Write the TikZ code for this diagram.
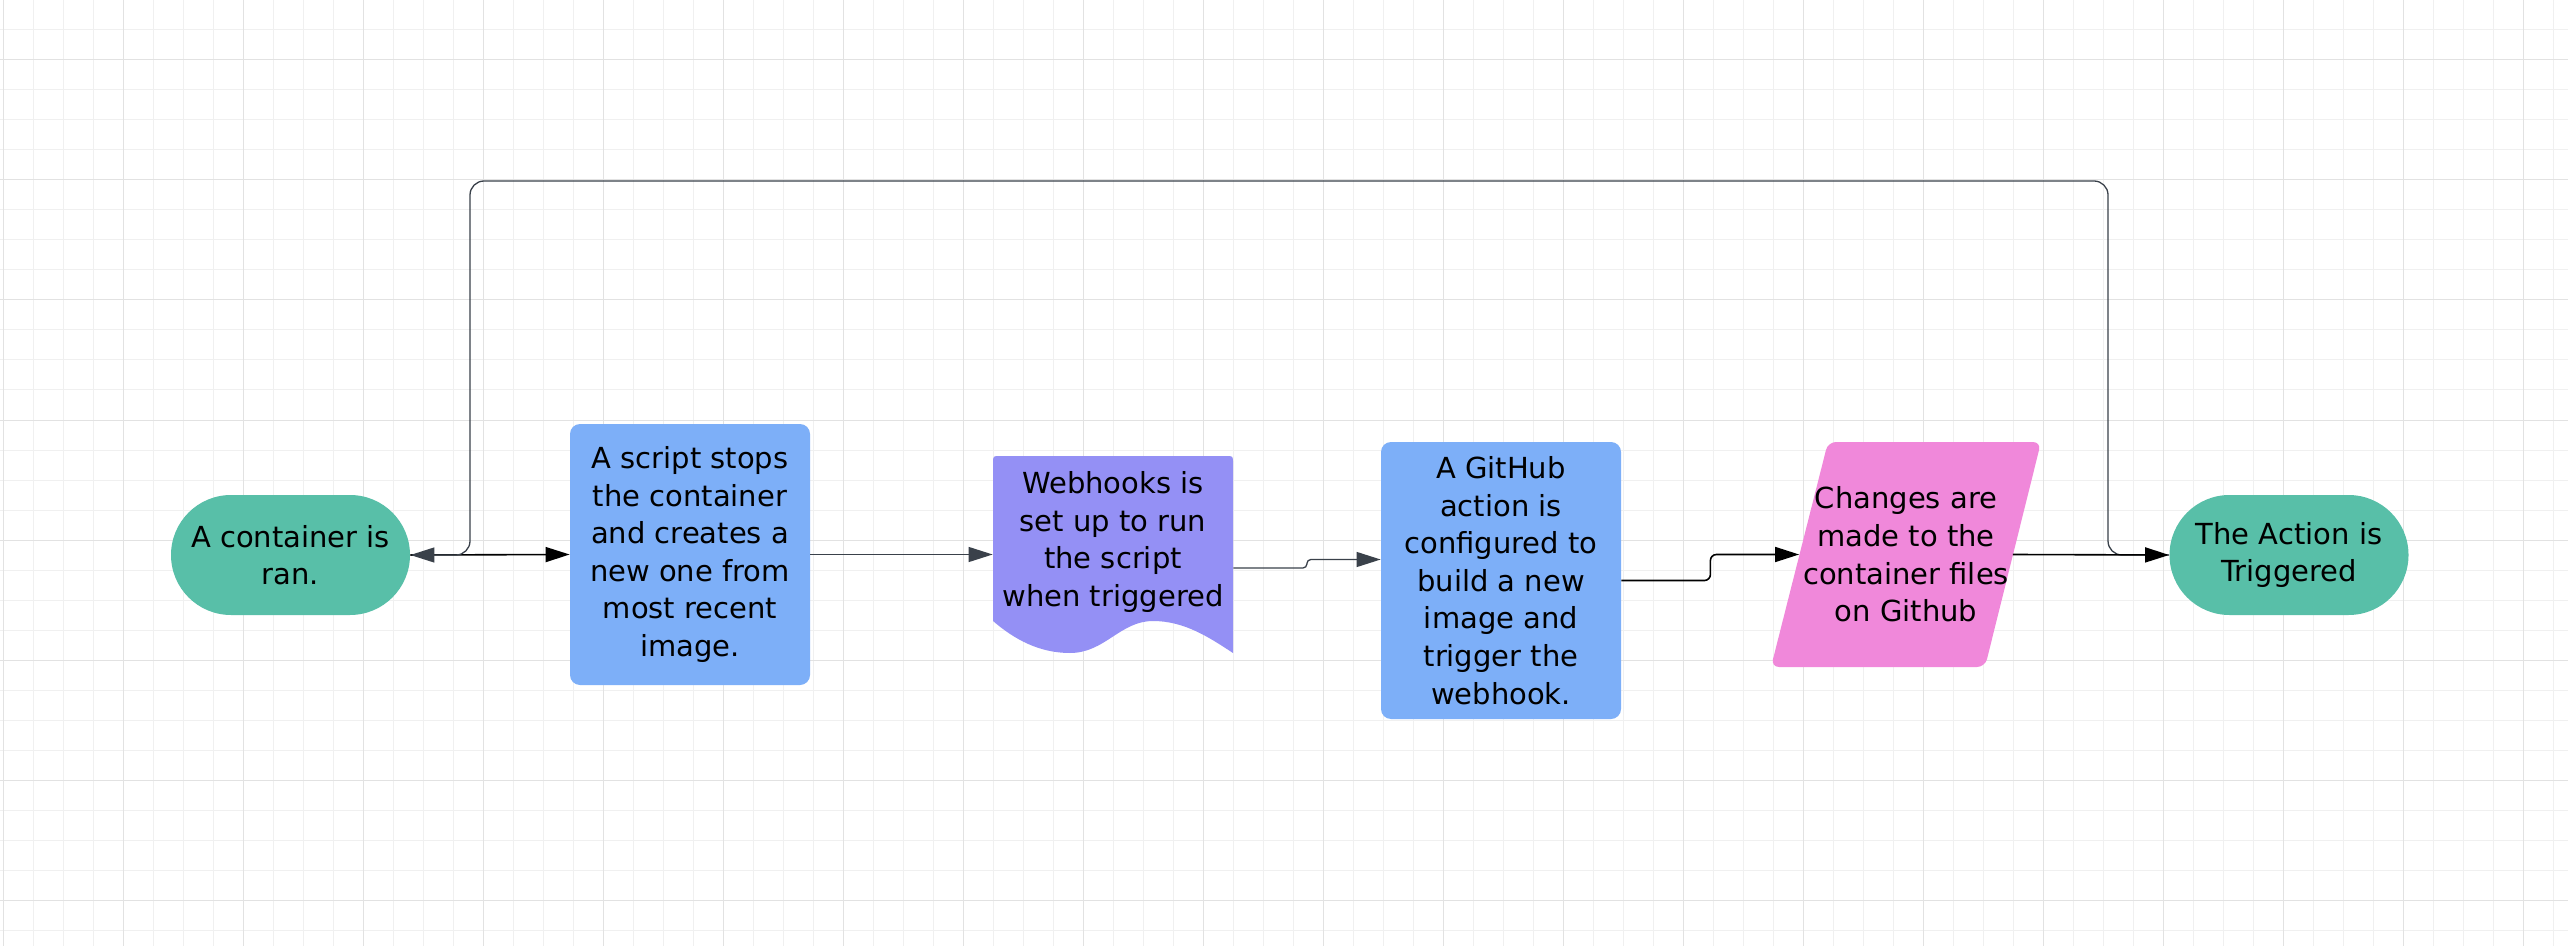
\documentclass[tikz,border=0pt]{standalone}
\usepackage{fontspec}
\setmainfont{DejaVu Sans}
\usetikzlibrary{arrows.meta,backgrounds,calc}
\definecolor{cTeal}{HTML}{58BFA8}
\definecolor{cBlue}{HTML}{7DAFF8}
\definecolor{cPurple}{HTML}{9490F5}
\definecolor{cPink}{HTML}{F088DA}
\definecolor{cGridMin}{HTML}{F0F0F0}
\definecolor{cGridMaj}{HTML}{E2E2E2}
\definecolor{cLine}{HTML}{3A414A}
\begin{document}
\begin{tikzpicture}[x=0.5pt,y=-0.5pt,
  every node/.style={font=\fontsize{14.5pt}{18.8pt}\selectfont, text=black},
  gmin/.style={draw=cGridMin, line width=0.5pt},
  gmaj/.style={draw=cGridMaj, line width=0.5pt},
  stadium/.style={rectangle, rounded corners=30pt, minimum width=119.5pt, minimum height=60pt, fill=cTeal, align=center, inner sep=0pt},
  procbox/.style={rectangle, rounded corners=5pt, minimum width=120pt, fill=cBlue, align=center, inner sep=0pt},
  plainnode/.style={rectangle, inner sep=0pt},
  txt/.style={align=center, inner sep=0pt},
  blk/.style={draw=black, line width=0.8pt, -{Triangle[length=12pt,width=7.5pt]}},
  gry/.style={draw=cLine, line width=0.65pt, -{Triangle[length=12pt,width=7.5pt]}, color=cLine},
]
\useasboundingbox (0,0) rectangle (2568,946);
\fill[white] (0,0) rectangle (2568,946);
% grid
\foreach \i in {0,...,85} \draw[gmin] ({3+30*\i},0) -- ({3+30*\i},946);
\foreach \j in {0,...,31} \draw[gmin] (0,{30*\j}) -- (2568,{30*\j});
\foreach \i in {0,...,21} \draw[gmaj] ({3+120*\i},0) -- ({3+120*\i},946);
\foreach \j in {0,...,7} \draw[gmaj] (0,{60+120*\j}) -- (2568,{60+120*\j});

% document shape fill
\fill[cPurple] (993,621) -- (993,463) .. controls (993,456) .. (1000,456) -- (1226,456)
  .. controls (1233,456) .. (1233,463) -- (1233,653)
  .. controls (1210,638) and (1185,621) .. (1153,621)
  .. controls (1120,621) and (1105,653) .. (1070,653)
  .. controls (1040,653) and (1015,640) .. (993,621) -- cycle;
% parallelogram fill
\fill[cPink, rounded corners=4pt] (1771,667) -- (1828,442) -- (2041,442) -- (1985,667) -- cycle;

% nodes
\node[stadium] (start) at (290.5,555) {A container is\\ran.};
\node[procbox, minimum height=130.5pt] (script) at (690,554.5) {A script stops\\the container\\and creates a\\new one from\\most recent\\image.};
\node[plainnode, minimum width=120pt, minimum height=98.5pt] (doc) at (1113,554.5) {};
\node[txt] (doctext) at (1113,542) {Webhooks is\\set up to run\\the script\\when triggered};
\node[procbox, minimum height=138.5pt] (git) at (1501,580.5) {A GitHub\\action is\\configured to\\build a new\\image and\\trigger the\\webhook.};
\node[plainnode, minimum width=135pt, minimum height=112.5pt, align=center] (par) at (1906,554.5) {Changes are\\made to the\\container files\\on Github};
\node[stadium] (end) at (2289,555) {The Action is\\Triggered};

\coordinate (loopL) at (470,181);
\coordinate (loopR) at (2108,181);

% connectors
\draw[blk] (start.east) -- (script.west);
\draw[gry] (script.east) -- (script.east -| doc.west);
\draw[gry, rounded corners=2pt] ([yshift=-6.75pt]doc.east) -- ++(73.5,0) |- ([yshift=10.5pt]git.west);
\draw[blk, rounded corners=3pt] (git.east) -- ++(89,0) |- ([xshift=14.25pt]par.west);
\draw[gry, rounded corners=7pt] (end.west) -| (loopR) -- (loopL) |- (start.east);
\draw[blk] ([xshift=-14.25pt]par.east) -- (end.west);
\end{tikzpicture}
\end{document}
